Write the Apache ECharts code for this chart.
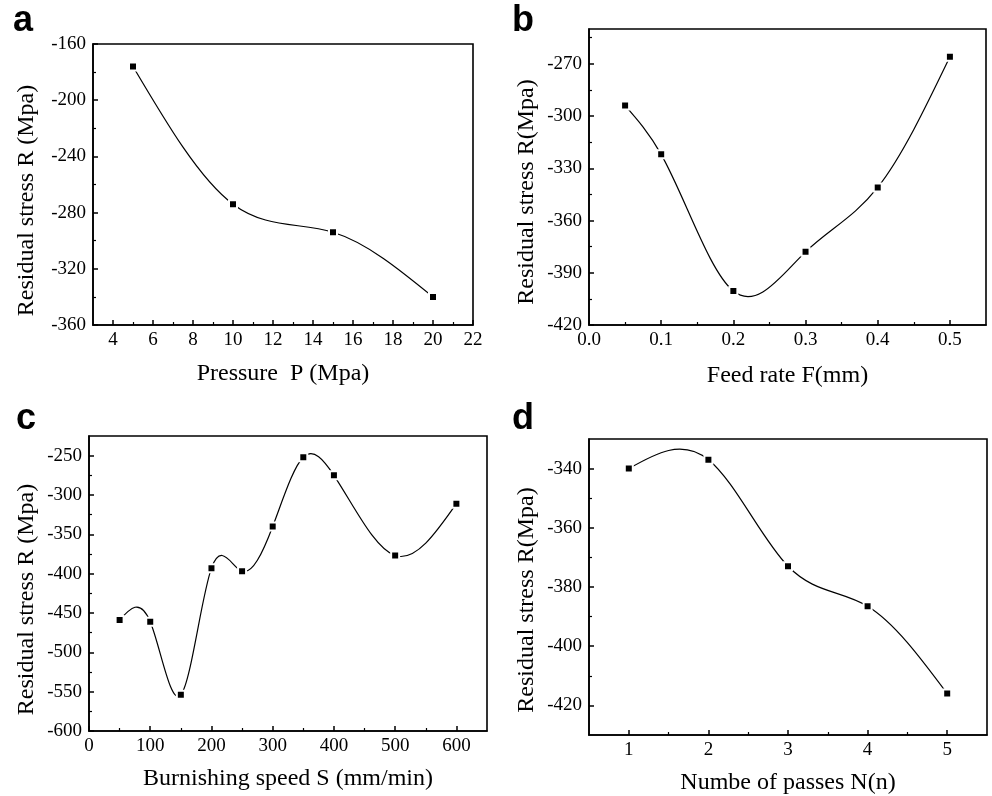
<!DOCTYPE html>
<html>
<head>
<meta charset="utf-8">
<script src="https://cdn.jsdelivr.net/npm/echarts@6/dist/echarts.min.js"></script>
<style>
  html, body { margin: 0; padding: 0; background: #fff; }
  #chart { width: 992px; height: 796px; }
</style>
</head>
<body>
<div id="chart"></div>
<script>
// (a) Pressure
const pressure = [5, 10, 15, 20];
const stressByPressure = [-176, -274, -294, -340];
const pressureTicks = [4, 6, 8, 10, 12, 14, 16, 18, 20, 22];
const pressureMinor = [5, 7, 9, 11, 13, 15, 17, 19, 21];
const stressTicksA = [-360, -320, -280, -240, -200, -160];
const stressMinorA = [-340, -300, -260, -220, -180];

// (b) Feed rate
const feedRate = [0.05, 0.1, 0.2, 0.3, 0.4, 0.5];
const stressByFeed = [-294, -322, -400.5, -378, -341, -266];
const feedTicks = [0, 0.1, 0.2, 0.3, 0.4, 0.5];
const feedMinor = [0.05, 0.15, 0.25, 0.35, 0.45];
const stressTicksB = [-420, -390, -360, -330, -300, -270];
const stressMinorB = [-405, -375, -345, -315, -285, -255];

// (c) Burnishing speed
const speed = [50, 100, 150, 200, 250, 300, 350, 400, 500, 600];
const stressBySpeed = [-459, -461, -554, -393, -397, -340, -252, -275, -377, -311];
const speedTicks = [0, 100, 200, 300, 400, 500, 600];
const speedMinor = [50, 150, 250, 350, 450, 550];
const stressTicksC = [-600, -550, -500, -450, -400, -350, -300, -250];
const stressMinorC = [-575, -525, -475, -425, -375, -325, -275];

// (d) Number of passes
const passes = [1, 2, 3, 4, 5];
const stressByPasses = [-340, -337, -373, -386.5, -416];
const passTicks = [1, 2, 3, 4, 5];
const passMinor = [1.5, 2.5, 3.5, 4.5];
const stressTicksD = [-420, -400, -380, -360, -340];
const stressMinorD = [-410, -390, -370, -350];

const SERIF = '"Liberation Serif", "Times New Roman", serif';
const SANS = '"Liberation Sans", Arial, sans-serif';

const panels = [
  {
    letter: 'a', letterPos: [13, 3],
    grid: { left: 93, top: 44, width: 380, height: 281 },
    x: { min: 3, max: 22, major: pressureTicks, minor: pressureMinor, fmt: v => String(v),
         name: 'Pressure  P (Mpa)', gap: 37 },
    y: { min: -360, max: -160, major: stressTicksA, minor: stressMinorA,
         name: 'Residual stress R (Mpa)', gap: 54, shift: 16 },
    xs: pressure, ys: stressByPressure
  },
  {
    letter: 'b', letterPos: [512, 3],
    grid: { left: 589, top: 29, width: 397, height: 296 },
    x: { min: 0, max: 0.55, major: feedTicks, minor: feedMinor, fmt: v => v.toFixed(1),
         name: 'Feed rate F(mm)', gap: 39 },
    y: { min: -420, max: -250, major: stressTicksB, minor: stressMinorB,
         name: 'Residual stress R(Mpa)', gap: 50, shift: 15 },
    xs: feedRate, ys: stressByFeed
  },
  {
    letter: 'c', letterPos: [16, 401],
    grid: { left: 89, top: 436, width: 398, height: 295 },
    x: { min: 0, max: 650, major: speedTicks, minor: speedMinor, fmt: v => String(v),
         name: 'Burnishing speed S (mm/min)', gap: 36 },
    y: { min: -600, max: -225, major: stressTicksC, minor: stressMinorC,
         name: 'Residual stress R (Mpa)', gap: 50, shift: 16 },
    xs: speed, ys: stressBySpeed
  },
  {
    letter: 'd', letterPos: [512, 401],
    grid: { left: 589, top: 439, width: 398, height: 297 },
    x: { min: 0.5, max: 5.5, major: passTicks, minor: passMinor, fmt: v => String(v),
         name: 'Numbe of passes N(n)', gap: 36 },
    y: { min: -430, max: -330, major: stressTicksD, minor: stressMinorD,
         name: 'Residual stress R(Mpa)', gap: 50, shift: 13 },
    xs: passes, ys: stressByPasses
  }
];

const black = '#000';
const frameWidth = 1.6;

// Natural cubic spline through the measured points: returns the slope at each knot,
// used to build exact Bezier segments between neighbouring points.
function splineSlopes(xs, ys) {
  const n = xs.length;
  const h = [];
  for (let i = 0; i < n - 1; i++) h.push(xs[i + 1] - xs[i]);
  const M = new Array(n).fill(0);
  if (n > 2) {
    const a = [], b = [], c = [], d = [];
    for (let i = 1; i < n - 1; i++) {
      a.push(h[i - 1]);
      b.push(2 * (h[i - 1] + h[i]));
      c.push(h[i]);
      d.push(6 * ((ys[i + 1] - ys[i]) / h[i] - (ys[i] - ys[i - 1]) / h[i - 1]));
    }
    const m = b.length;
    for (let i = 1; i < m; i++) {
      const w = a[i] / b[i - 1];
      b[i] -= w * c[i - 1];
      d[i] -= w * d[i - 1];
    }
    const sol = new Array(m);
    sol[m - 1] = d[m - 1] / b[m - 1];
    for (let i = m - 2; i >= 0; i--) sol[i] = (d[i] - c[i] * sol[i + 1]) / b[i];
    for (let i = 0; i < m; i++) M[i + 1] = sol[i];
  }
  const slopes = [];
  for (let i = 0; i < n; i++) {
    if (i < n - 1) {
      slopes.push((ys[i + 1] - ys[i]) / h[i] - h[i] * (2 * M[i] + M[i + 1]) / 6);
    } else {
      slopes.push((ys[i] - ys[i - 1]) / h[i - 1] + h[i - 1] * (M[i - 1] + 2 * M[i]) / 6);
    }
  }
  return slopes;
}

function axisPair(dim, cfg, gi) {
  const position = dim === 'x' ? 'bottom' : 'left';
  const nameStyle = { fontFamily: SERIF, fontSize: 24, color: black };
  if (cfg.shift) nameStyle.padding = [0, cfg.shift * 2, 0, 0];
  const main = {
    type: 'value', gridIndex: gi, position: position,
    min: cfg.min, max: cfg.max,
    name: cfg.name, nameLocation: 'middle', nameGap: cfg.gap,
    nameTextStyle: nameStyle,
    axisLine: { show: true, onZero: false, lineStyle: { color: black, width: frameWidth } },
    axisTick: { show: true, inside: true, length: 5, customValues: cfg.major,
                lineStyle: { color: black, width: 1.5 } },
    axisLabel: { show: true, customValues: cfg.major, formatter: cfg.fmt || (v => String(v)),
                 fontFamily: SERIF, fontSize: 19, color: black, margin: dim === 'x' ? 6 : 7 },
    splitLine: { show: false }
  };
  const minor = {
    type: 'value', gridIndex: gi, position: position,
    min: cfg.min, max: cfg.max,
    axisLine: { show: false, onZero: false },
    axisTick: { show: true, inside: true, length: 3, customValues: cfg.minor,
                lineStyle: { color: black, width: 1.2 } },
    axisLabel: { show: false },
    splitLine: { show: false }
  };
  return [main, minor];
}

const option = {
  animation: false,
  backgroundColor: '#fff',
  grid: panels.map(p => Object.assign({ show: true, borderColor: black, borderWidth: frameWidth,
                                        backgroundColor: 'transparent' }, p.grid)),
  xAxis: [],
  yAxis: [],
  series: [],
  graphic: panels.map(p => ({
    type: 'text', left: p.letterPos[0], top: p.letterPos[1],
    style: { text: p.letter, font: 'bold 36px ' + SANS, fill: black }
  }))
};

panels.forEach((p, gi) => {
  option.xAxis.push(...axisPair('x', p.x, gi));
  option.yAxis.push(...axisPair('y', p.y, gi));
  const pts = p.xs.map((x, i) => [x, p.ys[i]]);
  const slopes = splineSlopes(p.xs, p.ys);

  // Spline curve: one Bezier segment between each pair of neighbouring points
  option.series.push({
    type: 'custom',
    xAxisIndex: gi * 2, yAxisIndex: gi * 2,
    data: pts.slice(0, -1),
    clip: false,
    z: 2,
    renderItem: function (params, api) {
      const i = params.dataIndex;
      const x0 = p.xs[i], y0 = p.ys[i], x1 = p.xs[i + 1], y1 = p.ys[i + 1];
      const h = x1 - x0;
      const s = api.coord([x0, y0]);
      const e = api.coord([x1, y1]);
      const c1 = api.coord([x0 + h / 3, y0 + slopes[i] * h / 3]);
      const c2 = api.coord([x1 - h / 3, y1 - slopes[i + 1] * h / 3]);
      return {
        type: 'bezierCurve',
        shape: { x1: s[0], y1: s[1], x2: e[0], y2: e[1],
                 cpx1: c1[0], cpy1: c1[1], cpx2: c2[0], cpy2: c2[1] },
        style: { stroke: black, fill: null, lineWidth: 1.2 }
      };
    }
  });

  // Measured points
  option.series.push({
    type: 'scatter',
    xAxisIndex: gi * 2, yAxisIndex: gi * 2,
    data: pts,
    z: 3,
    symbol: 'rect', symbolSize: 8,
    itemStyle: { color: black, borderColor: '#fff', borderWidth: 2, opacity: 1 }
  });
});

const chart = echarts.init(document.getElementById('chart'), null, { renderer: 'canvas' });
chart.setOption(option);
</script>
</body>
</html>
